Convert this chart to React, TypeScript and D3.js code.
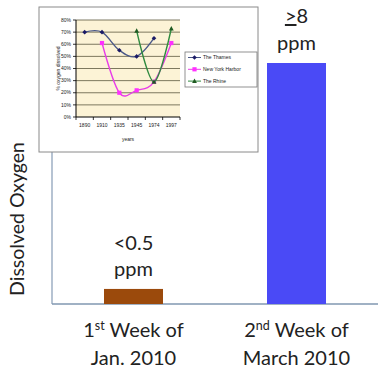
import React from "react";
import * as d3 from "d3";

// Main chart data
const periods = ["jan", "mar"];
const periodLine1 = [["1", "st", " Week of"], ["2", "nd", " Week of"]];
const periodLine2 = ["Jan. 2010", "March 2010"];
const oxygenPpm = [0.5, 8];
const valueLabels = [["<0.5", "ppm"], ["≥8", "ppm"]];
const barColors = ["#9b4a0c", "#4a4af6"];

// Inset chart data
const insetYears = ["1890", "1910", "1935", "1945", "1974", "1997"];
const thames: (number | null)[] = [70, 70, 55, 50, 65, null];
const nyHarbor: (number | null)[] = [null, 61, 20, 22, 29, 61];
const rhine: (number | null)[] = [null, null, null, 71, 29, 73];
const insetTicks = [0, 10, 20, 30, 40, 50, 60, 70, 80];
const seriesNames = ["The Thames", "New  York Harbor", "The Rhine"];
const seriesColors = ["#4a5888", "#e83ce8", "#2f8a3f"];
const markerColors = ["#1a1a66", "#ff30ff", "#1f5a22"];

export default function App() {
  const W = 378, H = 368;
  const font = "Lato, 'Open Sans', sans-serif";

  // main scales
  const x = d3.scaleBand().domain(periods).range([52, 378]);
  const y = d3.scaleLinear().domain([0, 8]).range([304, 63]);
  const barW = 59;

  // inset scales
  const ix = d3.scaleBand().domain(insetYears).range([76, 180]);
  const iy = d3.scaleLinear().domain([0, 80]).range([117, 20]);
  const cx = (yr: string) => (ix(yr) as number) + ix.bandwidth() / 2;

  const allSeries = [thames, nyHarbor, rhine];
  const lineGen = d3
    .line<[string, number]>()
    .x((d) => cx(d[0]))
    .y((d) => iy(d[1]))
    .curve(d3.curveCardinal.tension(0));

  const pts = (s: (number | null)[]) =>
    insetYears.map((yr, i) => [yr, s[i]] as [string, number | null]).filter((d) => d[1] !== null) as [string, number][];

  const marker = (k: number, px: number, py: number, key: string) => {
    if (k === 0)
      return (
        <path key={key} d={`M${px},${py - 2.3}L${px + 2.3},${py}L${px},${py + 2.3}L${px - 2.3},${py}Z`} fill={markerColors[0]} />
      );
    if (k === 1) return <rect key={key} x={px - 2.1} y={py - 2.1} width={4.2} height={4.2} fill={markerColors[1]} />;
    return <path key={key} d={`M${px},${py - 2.6}L${px + 2.4},${py + 1.9}L${px - 2.4},${py + 1.9}Z`} fill={markerColors[2]} />;
  };

  return (
    <svg width={W} height={H} style={{ position: "absolute", left: 0, top: 0, background: "#fff" }} fontFamily={font}>
      {/* main axes */}
      <line x1={52} x2={52} y1={10} y2={304} stroke="#8fa3bb" strokeWidth={1.3} />
      <line x1={52} x2={378} y1={304} y2={304} stroke="#8197b0" strokeWidth={1.5} />

      {/* bars */}
      {periods.map((p, i) => {
        const c = (x(p) as number) + x.bandwidth() / 2;
        return (
          <rect key={p} x={c - barW / 2} y={y(oxygenPpm[i])} width={barW} height={304 - y(oxygenPpm[i])} fill={barColors[i]} />
        );
      })}

      {/* value labels */}
      {periods.map((p, i) => {
        const c = (x(p) as number) + x.bandwidth() / 2;
        const top = y(oxygenPpm[i]);
        const v = valueLabels[i];
        return (
          <g key={"v" + p} fill="#222" fontSize={20} textAnchor="middle">
            {v[0].startsWith("≥") ? (
              <text x={c} y={top - 40}>
                <tspan textDecoration="underline">{">"}</tspan>
                {v[0].slice(1)}
              </text>
            ) : (
              <text x={c} y={top - 39}>{v[0]}</text>
            )}
            <text x={c} y={top - 13}>{v[1]}</text>
          </g>
        );
      })}

      {/* x category labels */}
      {periods.map((p, i) => {
        const c = (x(p) as number) + x.bandwidth() / 2;
        const l = periodLine1[i];
        return (
          <g key={"x" + p} fill="#222" fontSize={20} textAnchor="middle">
            <text x={c} y={337}>
              {l[0]}
              <tspan fontSize={12.5} dy={-7}>{l[1]}</tspan>
              <tspan dy={7}>{l[2]}</tspan>
            </text>
            <text x={c} y={365}>{periodLine2[i]}</text>
          </g>
        );
      })}

      {/* y label */}
      <text transform="translate(24,219) rotate(-90)" textAnchor="middle" fontSize={19.5} fill="#222">
        Dissolved Oxygen
      </text>

      {/* inset */}
      <g fontFamily="Arial, 'Liberation Sans', sans-serif">
        <rect x={39} y={7} width={219} height={145} fill="#fff" stroke="#8a8a8a" strokeWidth={1} />
        <rect x={76} y={20} width={104} height={97} fill="#fcf3d6" />
        {insetTicks.map((t) => (
          <g key={"g" + t}>
            {t > 0 && <line x1={76} x2={180} y1={iy(t)} y2={iy(t)} stroke="#6e6a50" strokeWidth={0.9} />}
            <line x1={73} x2={76} y1={iy(t)} y2={iy(t)} stroke="#000" strokeWidth={0.8} />
            <text x={71} y={iy(t) + 1.7} fontSize={5} textAnchor="end" fill="#222">
              {t}%
            </text>
          </g>
        ))}
        <line x1={76} x2={76} y1={20} y2={117} stroke="#000" strokeWidth={1} />
        <line x1={76} x2={180} y1={117} y2={117} stroke="#000" strokeWidth={1} />
        {insetYears.map((yr) => (
          <g key={"t" + yr}>
            <line x1={ix(yr) as number} x2={ix(yr) as number} y1={117} y2={120} stroke="#000" strokeWidth={0.8} />
            <text x={cx(yr)} y={127} fontSize={5} textAnchor="middle" fill="#222">
              {yr}
            </text>
          </g>
        ))}
        <line x1={180} x2={180} y1={117} y2={120} stroke="#000" strokeWidth={0.8} />
        <text x={128} y={141} fontSize={5} textAnchor="middle" fill="#222">
          years
        </text>
        <text transform={`translate(60,${(20 + 117) / 2}) rotate(-90)`} fontSize={5} textAnchor="middle" fill="#222">
          % oxygen dissolved
        </text>

        {allSeries.map((s, k) => (
          <g key={"s" + k}>
            <path d={lineGen(pts(s)) || ""} fill="none" stroke={seriesColors[k]} strokeWidth={1.4} />
            {pts(s).map((d, j) => marker(k, cx(d[0]), iy(d[1]), `m${k}-${j}`))}
          </g>
        ))}

        {/* legend */}
        <rect x={185} y={52} width={72} height={35} fill="#fff" stroke="#777" strokeWidth={0.8} />
        {seriesNames.map((n, k) => {
          const ry = 57.5 + k * 11.8;
          return (
            <g key={"l" + k}>
              <line x1={188} x2={201} y1={ry} y2={ry} stroke={seriesColors[k]} strokeWidth={1} />
              {marker(k, 194.5, ry, "lm" + k)}
              <text x={203} y={ry + 1.8} fontSize={5} fill="#222">
                {n}
              </text>
            </g>
          );
        })}
      </g>
    </svg>
  );
}
